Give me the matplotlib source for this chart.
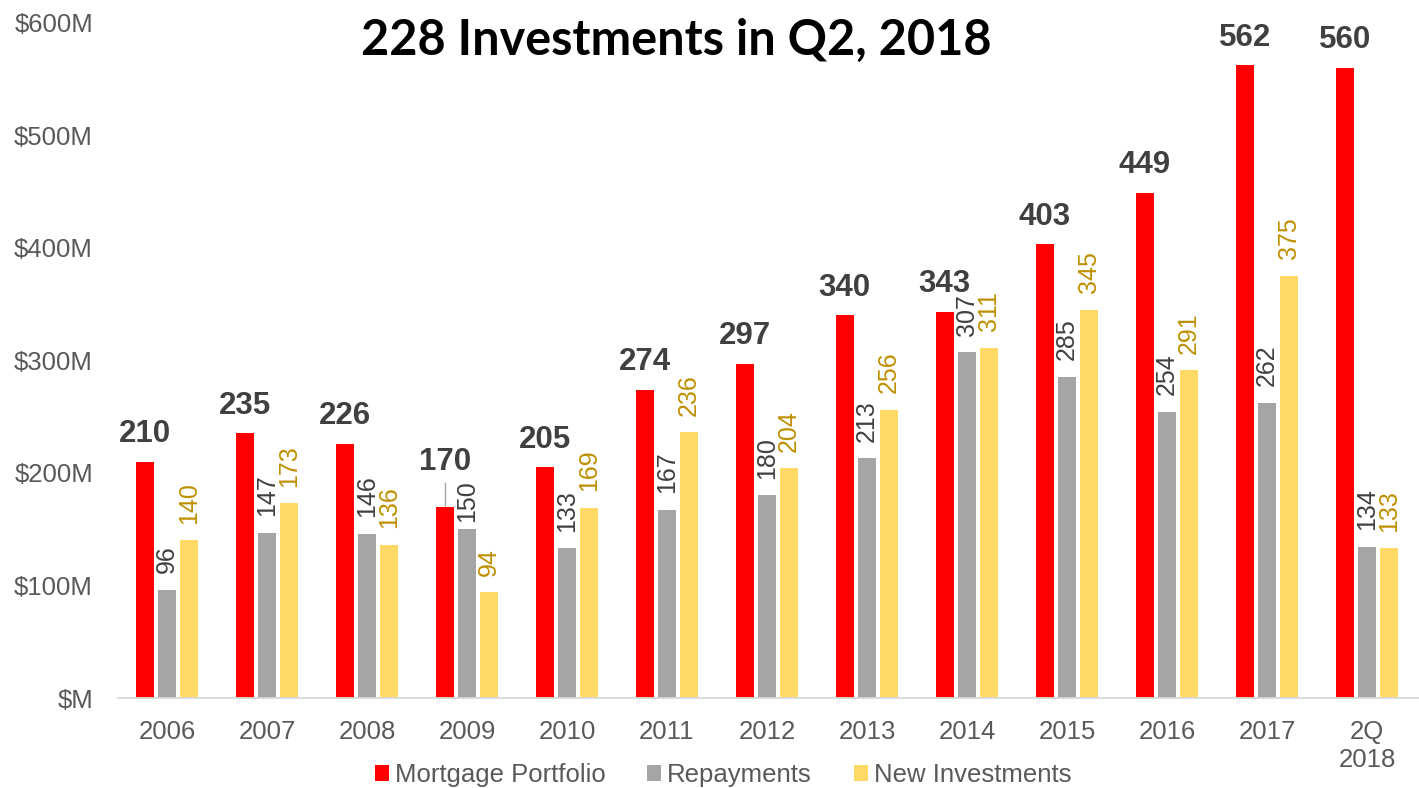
import numpy as np
import matplotlib
matplotlib.use('Agg')
import matplotlib.pyplot as plt
from matplotlib.patches import Patch

# data (values in $M)
years = ['2006', '2007', '2008', '2009', '2010', '2011', '2012', '2013',
         '2014', '2015', '2016', '2017', '2Q\n2018']
portfolio = [210, 235, 226, 170, 205, 274, 297, 340, 343, 403, 449, 562, 560]
repayments = [96, 147, 146, 150, 133, 167, 180, 213, 307, 285, 254, 262, 134]
new_invest = [140, 173, 136, 94, 169, 236, 204, 256, 311, 345, 291, 375, 133]
yticks = [0, 100, 200, 300, 400, 500, 600]
ytick_labels = ['$M', '$100M', '$200M', '$300M', '$400M', '$500M', '$600M']

RED = '#FF0000'
GRAY = '#A5A5A5'
YELLOW = '#FFD966'
GOLD = '#BF9000'
DARK = '#404040'
AXTXT = '#595959'

plt.rcParams['font.family'] = ['Liberation Sans', 'DejaVu Sans']

W, H = 1419, 788
fig = plt.figure(figsize=(W / 100, H / 100), dpi=100)
ax = fig.add_axes([118 / W, (H - 698) / H, 1301 / W, (698 - 22.5) / H])

x = np.arange(len(years))
bw = 0.175
step = 0.222
ax.bar(x - step, portfolio, bw, color=RED, zorder=2)
ax.bar(x, repayments, bw, color=GRAY, zorder=2)
ax.bar(x + step, new_invest, bw, color=YELLOW, zorder=2)

# labels
for i in range(len(years)):
    red_off = 9
    gray_off = 12
    if years[i] == '2009':
        # 2009: label lifted with a leader line, gray label pulled down
        red_off = 21
        gray_off = 5
        ax.plot([x[i] - step, x[i] - step], [portfolio[i], portfolio[i] + 21],
                color='#A6A6A6', lw=1, zorder=1)
    ax.annotate(str(portfolio[i]), (x[i] - step, portfolio[i]),
                xytext=(0, red_off), textcoords='offset points',
                ha='center', va='bottom', fontsize=22.5, fontweight='bold', color=DARK)
    ax.annotate(str(repayments[i]), (x[i], repayments[i]),
                xytext=(0, gray_off), textcoords='offset points', rotation=90,
                ha='center', va='bottom', fontsize=18, color=DARK)
    ax.annotate(str(new_invest[i]), (x[i] + step, new_invest[i]),
                xytext=(0, 12), textcoords='offset points', rotation=90,
                ha='center', va='bottom', fontsize=18, color=GOLD)

ax.set_xlim(-0.49, 12.52)
ax.set_ylim(0, 600)
ax.set_yticks(yticks)
ax.set_yticklabels(ytick_labels)
ax.set_xticks(x)
ax.set_xticklabels(years)
ax.tick_params(axis='both', length=0, labelsize=18.5, labelcolor=AXTXT)
ax.tick_params(axis='y', pad=18)
ax.tick_params(axis='x', pad=16)
for s in ['top', 'right', 'left']:
    ax.spines[s].set_visible(False)
ax.spines['bottom'].set_color('#D9D9D9')
ax.spines['bottom'].set_linewidth(1.3)

fig.text(676 / W, 1 - 40 / H, '228 Investments in Q2, 2018', ha='center', va='center',
         fontsize=35, fontweight='bold', color='black', family=['Lato', 'DejaVu Sans'])

handles = [Patch(facecolor=RED), Patch(facecolor=GRAY), Patch(facecolor=YELLOW)]
fig.legend(handles, ['Mortgage Portfolio', 'Repayments', 'New Investments'],
           loc='center', bbox_to_anchor=(723 / W, 1 - 775 / H), ncol=3, frameon=False,
           handlelength=0.55, handleheight=0.55, handletextpad=0.23, columnspacing=1.63,
           labelcolor=AXTXT, borderpad=0, fontsize=18.5)

fig.savefig('out.png', dpi=100)
